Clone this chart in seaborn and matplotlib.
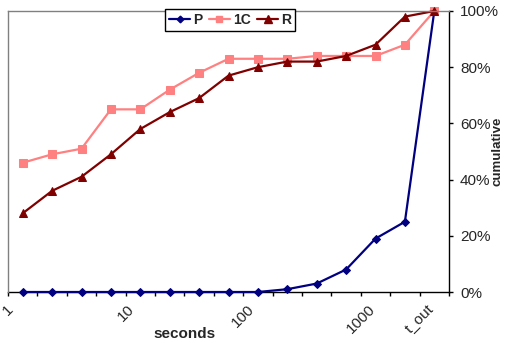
import numpy as np
import pandas as pd
import matplotlib
matplotlib.use("Agg")
import matplotlib.pyplot as plt
import seaborn as sns
from matplotlib.lines import Line2D

# ---- data ----
series_names = ["P", "1C", "R"]
P_vals = [0, 0, 0, 0, 0, 0, 0, 0, 0, 1, 3, 8, 19, 25, 100]
C1_vals = [46, 49, 51, 65, 65, 72, 78, 83, 83, 83, 84, 84, 84, 88, 100]
R_vals = [28, 36, 41, 49, 58, 64, 69, 77, 80, 82, 82, 84, 88, 98, 100]
tick_labels = {0: "1", 4: "10", 8: "100", 12: "1000", 14: "t_out"}
y_ticks = [0, 20, 40, 60, 80, 100]

n = len(P_vals)
cat = np.arange(n) + 0.5
df = pd.DataFrame({
    "pos": np.concatenate([cat, cat, cat]),
    "value": P_vals + C1_vals + R_vals,
    "series": ["P"] * n + ["1C"] * n + ["R"] * n,
})

sns.set_theme(style="white")
plt.rcParams["font.family"] = ["Liberation Sans", "DejaVu Sans"]

fig = plt.figure(figsize=(5.05, 3.43), dpi=100)
ax = fig.add_axes([8 / 505, 1 - 292 / 343, (449 - 8) / 505, (292 - 11) / 343])

palette = {"P": "#000080", "1C": "#FF8080", "R": "#800000"}
markers = {"P": "D", "1C": "s", "R": "^"}
sizes = {"P": 4.0, "1C": 5.5, "R": 6.0}

sns.lineplot(data=df, x="pos", y="value", hue="series", style="series",
             hue_order=series_names, style_order=series_names,
             palette=palette, markers=markers, dashes=False,
             linewidth=1.6, ax=ax, legend=False)

for line, name in zip(ax.get_lines(), series_names):
    line.set_markeredgecolor(palette[name])
    line.set_markerfacecolor(palette[name])
    line.set_markersize(sizes[name])
    line.set_clip_on(False)

ax.set_xlim(0, n)
ax.set_ylim(0, 100)

ax.set_xticks(np.arange(n + 1))
ax.set_xticklabels([tick_labels.get(i, "") for i in range(n + 1)],
                   rotation=45, ha="center", va="top", fontsize=11)
ax.tick_params(axis="x", bottom=True, direction="out", length=3, width=1,
               color="black", pad=4)

ax.yaxis.tick_right()
ax.set_yticks(y_ticks)
ax.set_yticklabels([f"{v}%" for v in y_ticks], fontsize=11)
ax.tick_params(axis="y", right=True, left=False, direction="out", length=3,
               width=1, color="black", pad=5)

for s in ["left", "top"]:
    ax.spines[s].set_color("#808080")
    ax.spines[s].set_linewidth(1)
for s in ["right", "bottom"]:
    ax.spines[s].set_color("black")
    ax.spines[s].set_linewidth(1)
    ax.spines[s].set_zorder(0)

ax.set_xlabel("seconds", fontsize=11, fontweight="bold")
ax.xaxis.set_label_coords(0.40, -0.125)
ax.yaxis.set_label_position("right")
ax.set_ylabel("cumulative", fontsize=9.5, fontweight="bold", rotation=90)
ax.yaxis.set_label_coords((491 - 8) / 441, 0.5)

handles = [Line2D([0], [0], color=palette[s], marker=markers[s],
                  markersize=sizes[s] * 0.85, linewidth=1.6,
                  markeredgecolor=palette[s]) for s in series_names]
leg = ax.legend(handles, series_names, loc="upper center",
                bbox_to_anchor=((230 - 8) / 441, 1.008), ncol=3,
                frameon=True, fancybox=False, framealpha=1,
                edgecolor="black", prop={"weight": "bold", "size": 10},
                handlelength=1.55, handletextpad=0.2, columnspacing=0.45,
                borderpad=0.3, borderaxespad=0)
leg.get_frame().set_linewidth(1)

fig.savefig("out.png", dpi=100)
